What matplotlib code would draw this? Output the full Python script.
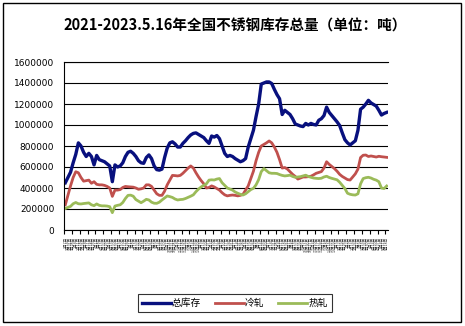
import numpy as np
import pandas as pd
import matplotlib
matplotlib.use('Agg')
import matplotlib.pyplot as plt
from matplotlib.patches import Rectangle

plt.rcParams['font.family'] = ['Noto Sans CJK SC', 'DejaVu Sans']

# weekly inventory, unit: 1000 t
total = [450, 500, 550, 640, 720, 830, 800, 740, 700, 730, 700, 620, 710, 670, 660, 650,
         630, 610, 460, 620, 600, 610, 640, 700, 740, 750, 730, 700, 660, 640, 635, 690,
         715, 680, 610, 575, 570, 580, 690, 780, 830, 840, 820, 790, 790, 825, 850, 880,
         905, 920, 925, 910, 895, 880, 850, 825, 895, 885, 900, 870, 800, 730, 700, 710,
         700, 680, 665, 650, 660, 680, 790, 870, 950, 1080, 1200, 1390, 1400, 1410, 1410, 1395,
         1340, 1290, 1250, 1100, 1140, 1120, 1100, 1060, 1010, 1000, 990, 985, 1015, 1000, 1015, 1005,
         1000, 1045, 1060, 1090, 1170, 1120, 1090, 1060, 1030, 995, 925, 860, 830, 810, 830, 850,
         950, 1150, 1170, 1200, 1235, 1210, 1195, 1180, 1140, 1095, 1110, 1120]
cold = [240, 330, 420, 500, 555, 545, 500, 465, 470, 475, 445, 460, 435, 430, 430, 425,
        415, 400, 320, 380, 380, 385, 405, 415, 412, 410, 408, 400, 388, 392, 400, 430,
        430, 415, 380, 345, 330, 330, 370, 430, 475, 520, 518, 515, 520, 540, 565, 590,
        610, 590, 545, 505, 470, 440, 400, 405, 420, 410, 395, 380, 355, 335, 325, 330,
        333, 330, 325, 330, 340, 380, 420, 490, 560, 660, 740, 800, 815, 830, 848, 830,
        790, 740, 670, 590, 595, 580, 555, 530, 510, 485, 495, 505, 505, 508, 512, 525,
        540, 548, 556, 590, 650, 625, 605, 585, 560, 530, 510, 495, 480, 476, 505, 535,
        580, 690, 712, 714, 700, 705, 700, 695, 702, 698, 695, 692]
hot = [205, 215, 225, 250, 262, 250, 248, 252, 255, 258, 240, 232, 248, 235, 230, 230,
       228, 222, 165, 228, 235, 240, 262, 300, 330, 332, 322, 290, 275, 260, 275, 292,
       286, 265, 255, 254, 265, 286, 305, 324, 318, 310, 295, 286, 290, 292, 300, 311,
       322, 335, 365, 390, 410, 425, 440, 475, 478, 476, 485, 490, 450, 425, 400, 390,
       380, 362, 350, 340, 333, 345, 365, 385, 397, 430, 480, 556, 585, 565, 545, 540,
       540, 538, 528, 520, 515, 518, 522, 510, 502, 505, 508, 515, 522, 510, 502, 495,
       492, 490, 493, 505, 512, 500, 492, 485, 478, 455, 425, 395, 350, 340, 335, 333,
       345, 440, 490, 498, 502, 495, 483, 475, 460, 400, 395, 419]
dates = pd.date_range('2021-01-07', periods=len(total), freq='7D')
labels = [f'{d.month}月{d.day}日' for d in dates]

x = np.arange(len(total))

fig = plt.figure(figsize=(4.65, 3.26), dpi=100)
ax = fig.add_axes([64/465, 1-230/326, 324/465, 168/326])

ax.plot(x, np.array(total)*1000, color='#08107e', lw=2.4, label='总库存')
ax.plot(x, np.array(cold)*1000, color='#c0504d', lw=2.0, label='冷轧')
ax.plot(x, np.array(hot)*1000, color='#9bbb59', lw=2.0, label='热轧')

ax.set_ylim(0, 1600000)
ax.set_xlim(-0.5, len(total)-0.5)
ax.set_yticks(np.arange(0, 1600001, 200000))
ax.set_yticklabels([str(v) for v in range(0, 1600001, 200000)], family='DejaVu Sans', fontsize=6.5)
ax.grid(axis='y', color='black', lw=0.8)
ax.set_axisbelow(True)
ax.tick_params(axis='y', length=0, pad=7)

ax.set_xticks(x)
ax.set_xticklabels(labels, rotation=90, fontsize=2.6, color='#333333')
ax.tick_params(axis='x', which='major', length=0, pad=5)
ax.set_xticks(np.arange(-0.5, len(total), 3), minor=True)
ax.tick_params(axis='x', which='minor', length=3, width=0.8, direction='out')

ax.spines['right'].set_visible(False)
for s in ['top', 'left', 'bottom']:
    ax.spines[s].set_linewidth(0.8)

fig.text(0.505, 1-26/326, '2021-2023.5.16年全国不锈钢库存总量（单位：吨）',
         ha='center', va='center', fontsize=10.5, fontweight='bold')

leg = fig.legend(loc='center', bbox_to_anchor=(0.505, 1-303/326), ncol=3, fontsize=7,
                 frameon=True, fancybox=False, edgecolor='black', handlelength=3.0,
                 columnspacing=1.4, handletextpad=0.1, borderpad=0.45, borderaxespad=0)
leg.get_frame().set_linewidth(0.8)

fig.patches.append(Rectangle((3/465, 4/326), 458/465, 319/326, transform=fig.transFigure,
                             fill=False, edgecolor='black', lw=1))

plt.savefig('out.png', dpi=100)
